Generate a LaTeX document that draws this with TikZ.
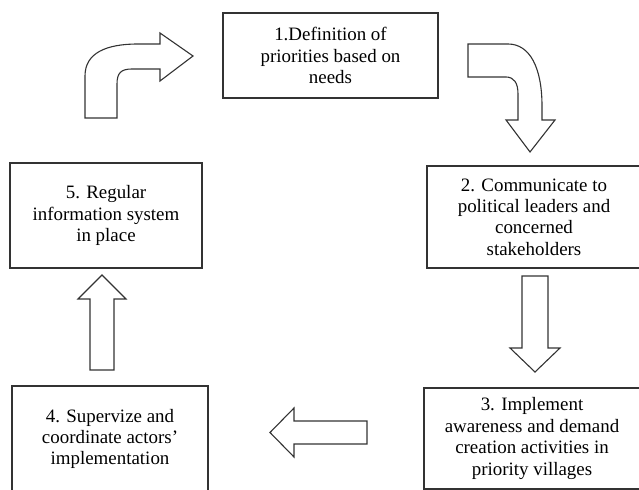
\documentclass[tikz,border=0pt]{standalone}
\usepackage{fontspec}
\setmainfont{Liberation Serif}
\usetikzlibrary{calc}
\tikzstyle{stage}=[draw=black!80, line width=1.1bp, align=center, inner sep=0pt, font=\fontsize{19}{21.5}\selectfont]
\tikzstyle{block arrow}=[draw=black!80, line width=1.1bp, fill=white, line join=miter]

\begin{document}
\begin{tikzpicture}[x=1bp, y=-1bp]
      \useasboundingbox (0,0) rectangle (639,490);
      \clip (0,0) rectangle (639,490);

      \node[stage, minimum width=215bp, minimum height=85bp] (s1) at (330.5,55.5)
        {1.Definition of\\priorities based on\\needs};
      \node[stage, minimum width=214bp, minimum height=102bp] (s2) at (534,217)
        {2. Communicate to\\political leaders and\\concerned\\stakeholders};
      \node[stage, minimum width=216bp, minimum height=101bp] (s3) at (532,438.5)
        {3. Implement\\awareness and demand\\creation activities in\\priority villages};
      \node[stage, minimum width=196bp, minimum height=106bp] (s4) at (110,439)
        {4. Supervize and\\coordinate actors'\\implementation};
      \node[stage, minimum width=192bp, minimum height=105bp] (s5) at (106,215.5)
        {5. Regular\\information system\\in place};

      % 1 -> 2 (bent)
      \coordinate (tail_12) at (468,60.5);
      \coordinate (tip_12) at (530,152);
      \draw[block arrow] ($(tail_12)+(0,-16.5)$) -- (508,44)
        .. controls (530,44) and (542,68) .. (542,106) -- (542,120)
        -- ($(tip_12)+(25,-32)$) -- (tip_12) -- ($(tip_12)+(-24,-32)$)
        -- (518,120) -- (518,94) .. controls (518,83) and (514,77) .. (506,77)
        -- ($(tail_12)+(0,16.5)$) -- cycle;

      % 2 -> 3
      \coordinate (tail_23) at (535,276);
      \coordinate (tip_23) at (535,372);
      \draw[block arrow] ($(tail_23)+(-13,0)$) -- ($(tail_23)+(13,0)$)
        -- ($(tip_23)+(13,-24)$) -- ($(tip_23)+(25,-24)$) -- (tip_23)
        -- ($(tip_23)+(-25,-24)$) -- ($(tip_23)+(-13,-24)$) -- cycle;

      % 3 -> 4
      \coordinate (tail_34) at (367,432.5);
      \coordinate (tip_34) at (270,432.5);
      \draw[block arrow] ($(tail_34)+(0,-11.5)$) -- ($(tail_34)+(0,11.5)$)
        -- ($(tip_34)+(24,11.5)$) -- ($(tip_34)+(24,24.5)$) -- (tip_34)
        -- ($(tip_34)+(24,-24.5)$) -- ($(tip_34)+(24,-11.5)$) -- cycle;

      % 4 -> 5
      \coordinate (tail_45) at (102,370);
      \coordinate (tip_45) at (102,275);
      \draw[block arrow] ($(tail_45)+(-12,0)$) -- ($(tail_45)+(12,0)$)
        -- ($(tip_45)+(12,24)$) -- ($(tip_45)+(24,24)$) -- (tip_45)
        -- ($(tip_45)+(-24,24)$) -- ($(tip_45)+(-12,24)$) -- cycle;

      % 5 -> 1 (bent)
      \coordinate (tail_51) at (101,118);
      \coordinate (tip_51) at (193,56);
      \draw[block arrow] ($(tail_51)+(-16,0)$) -- (85,76)
        .. controls (85,53) and (106,44) .. (138,44) -- (160,44)
        -- ($(tip_51)+(-33,-23)$) -- (tip_51) -- ($(tip_51)+(-33,25)$)
        -- (160,69) -- (132,69) .. controls (121,69) and (117,73) .. (117,84)
        -- ($(tail_51)+(16,0)$) -- cycle;
    \end{tikzpicture}
\end{document}
